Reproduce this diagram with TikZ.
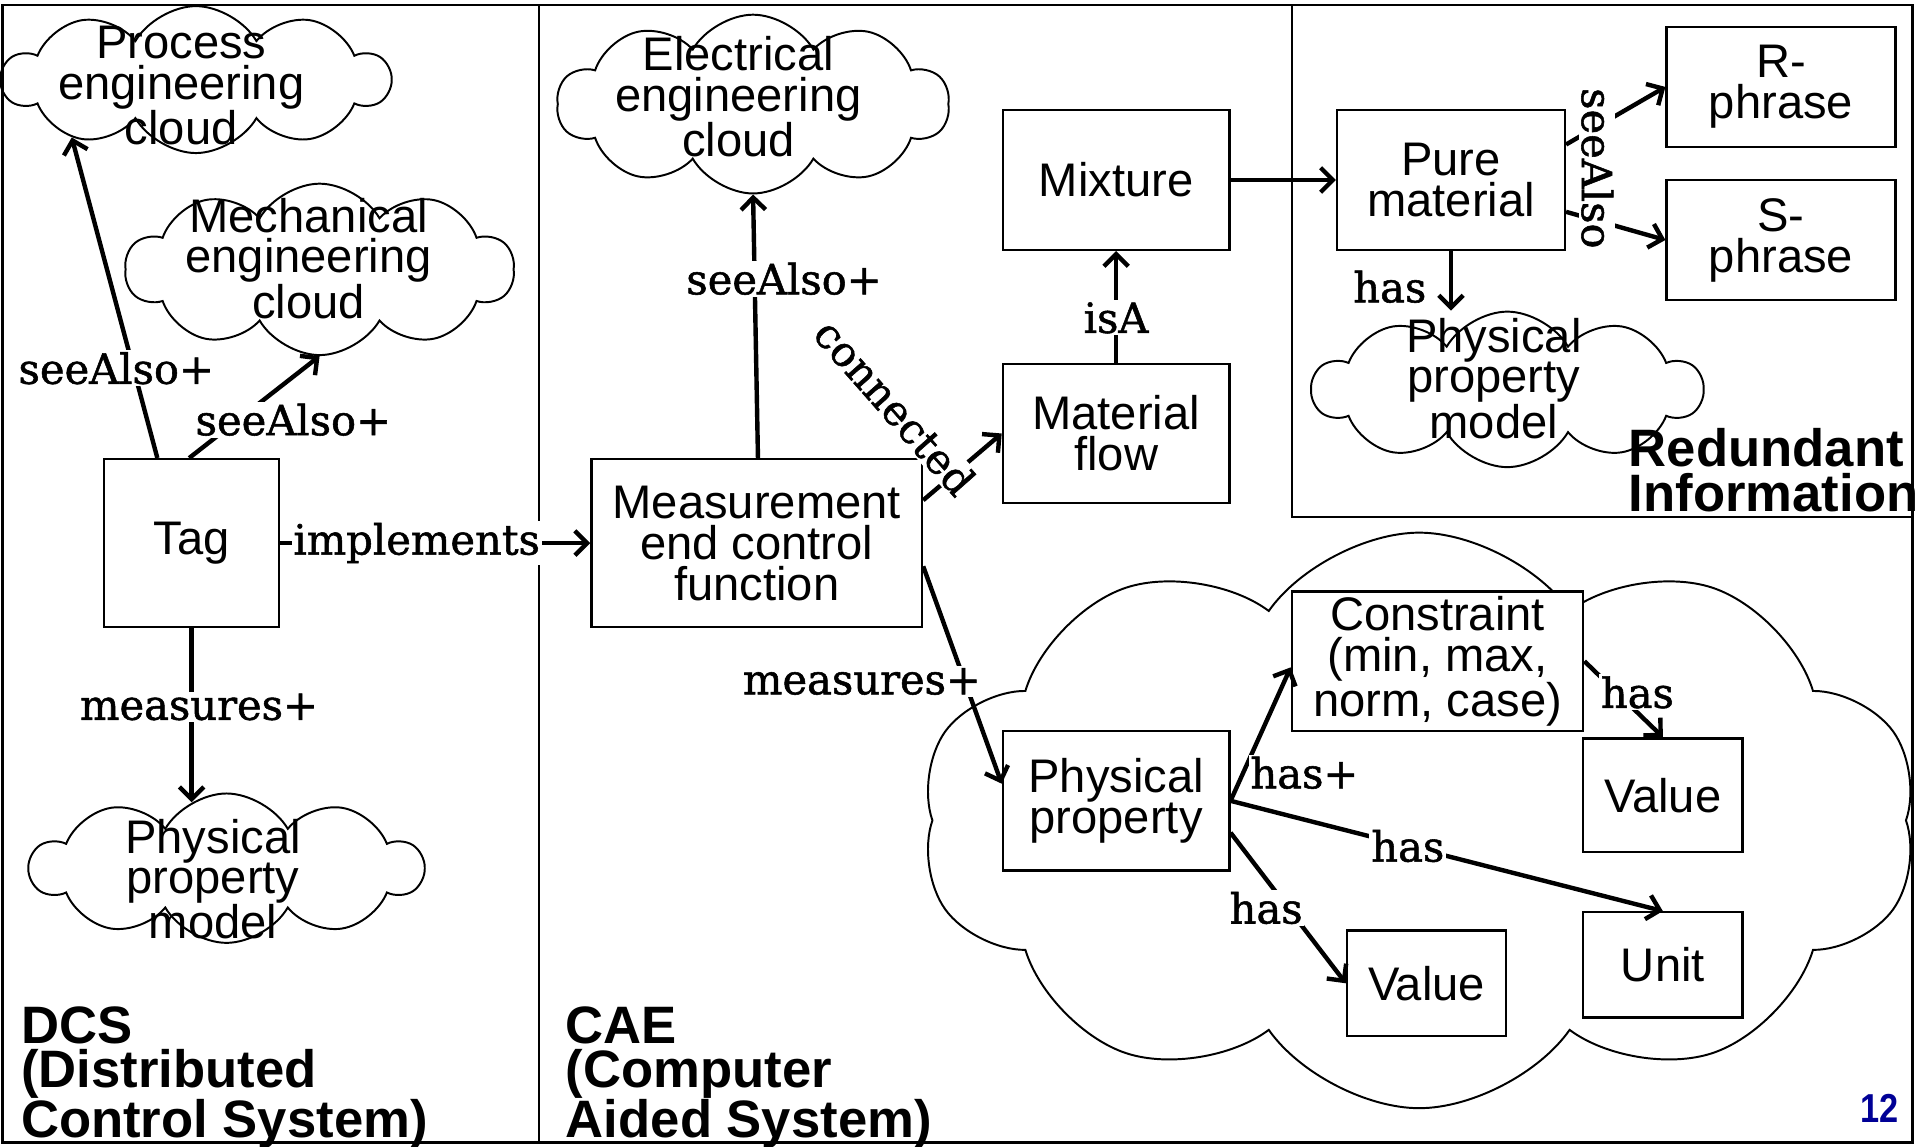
\documentclass[tikz,border=0pt]{standalone}
\usepackage{fontspec}
\setmainfont{Liberation Sans}
\newfontfamily\lblfont[RawFeature={embolden=1.3}]{DejaVu Serif}
\newfontfamily\numfont[FakeStretch=0.85]{Liberation Sans}
\usetikzlibrary{shapes.symbols,arrows.meta}
\definecolor{pgnum}{RGB}{0,0,150}
\begin{document}
\begin{tikzpicture}[x=1pt,y=-1pt,
  box/.style={draw, fill=white, line width=1.9pt, align=center, inner sep=0pt, font=\fontsize{38.5}{33.5}\selectfont},
  ctext/.style={align=center, inner sep=0pt, font=\fontsize{38.5}{33}\selectfont},
  cloudnode/.style={cloud, draw, line width=1.6pt, cloud puffs=10, cloud puff arc=120, cloud ignores aspect, inner sep=0pt},
  conn/.style={line width=3.6pt, -{Straight Barb[length=10pt,width=20pt]}},
  lbl/.style={font=\lblfont\fontsize{34}{34}\selectfont, fill=white, inner sep=1.5pt},
  ttl/.style={align=left, anchor=north west, inner sep=0pt, font=\bfseries\fontsize{43}{36}\selectfont}]
\useasboundingbox (0,0) rectangle (1568,936);
% frame and areas
\draw[line width=2.2pt] (2,4) rectangle (1562,933);
\draw[line width=1.9pt] (440,4) -- (440,933);
\draw[line width=1.9pt] (1055,4) rectangle (1562,422);
% big cloud
\node[cloudnode, cloud puffs=10, cloud puff arc=110, minimum width=814pt, minimum height=470pt] (bigcloud) at (1159,670) {};
% small clouds
\node[cloudnode, minimum width=316pt, minimum height=120pt] (pcloud) at (160,65) {};
\node[ctext] (ptext) at (148,70) {Process\\engineering\\cloud};
\node[cloudnode, minimum width=317pt, minimum height=140pt] (mcloud) at (261,220) {};
\node[ctext] (mtext) at (252,211) {Mechanical\\engineering\\cloud};
\node[cloudnode, minimum width=320pt, minimum height=146pt] (ecloud) at (615,85) {};
\node[ctext] (etext) at (603,79) {Electrical\\engineering\\cloud};
\node[cloudnode, minimum width=320pt, minimum height=122pt] (dcloud) at (185,709) {};
\node[ctext] (dtext) at (174,718) {Physical\\property\\model};
\node[cloudnode, minimum width=318pt, minimum height=127pt] (rcloud) at (1231,318) {};
\node[ctext] (rtext) at (1220,309) {Physical\\property\\model};
% boxes
\node[box, minimum width=143pt, minimum height=137pt] (tag) at (156.5,443.5) {Tag};
\node[box, minimum width=270pt, minimum height=137pt] (meas) at (618,443.5) {Measurement\\end control\\function};
\node[box, minimum width=185pt, minimum height=114pt] (mix) at (911.5,147) {Mixture};
\node[box, minimum width=185pt, minimum height=114pt] (mflow) at (911.5,354) {Material\\flow};
\node[box, minimum width=186pt, minimum height=114pt] (pure) at (1185,147) {Pure\\material};
\node[box, minimum width=187pt, minimum height=98pt] (rph) at (1454.5,71) {R-\\phrase};
\node[box, minimum width=187pt, minimum height=98pt] (sph) at (1454.5,196) {S-\\phrase};
\node[box, minimum width=238pt, minimum height=114pt] (cons) at (1174,540) {Constraint\\(min, max,\\norm, case)};
\node[box, minimum width=130pt, minimum height=93pt] (val1) at (1358,649.5) {Value};
\node[box, minimum width=185pt, minimum height=114pt] (pp) at (911.5,654) {Physical\\property};
\node[box, minimum width=130pt, minimum height=86pt] (val2) at (1165,803) {Value};
\node[box, minimum width=130pt, minimum height=86pt] (unit) at (1358,788) {Unit};
% connectors
\draw[conn] ([xshift=-28pt]tag.north) -- node[lbl, pos=0.28, xshift=-14pt]{seeAlso+} (pcloud.205);
\draw[conn] ([xshift=-2pt]tag.north) -- node[lbl, pos=0.376, xshift=45pt]{seeAlso+} (mcloud.south);
\draw[conn] (tag) -- node[lbl, pos=0.44]{implements} (meas);
\draw[conn, shorten >=-8pt] (tag.south) -- node[lbl, pos=0.48, xshift=6pt]{measures+} (tag.south |- dcloud.north);
\draw[conn] ([xshift=1pt]meas.north) -- node[lbl, pos=0.68, xshift=24pt]{seeAlso+} (ecloud.south);
\draw[conn] ([yshift=35pt]meas.east) -- node[lbl, pos=0.5, xshift=-55pt, yshift=49pt, rotate=-48.6]{connected} (mflow.west);
\draw[conn] ([yshift=-19pt]meas.east) -- node[lbl, pos=0.53, xshift=-84pt]{measures+} ([yshift=14pt]pp.west);
\draw[conn] (mflow) -- node[lbl, pos=0.4]{isA} (mix);
\draw[conn] (mix) -- (pure);
\draw[conn] ([yshift=-26pt]pure.east) -- (sph.west);
\draw[conn] ([yshift=29pt]pure.east) -- node[lbl, pos=0.5, xshift=-15pt, yshift=-43pt, rotate=-90]{seeAlso} (rph.west);
\draw[conn] (pure.south) -- node[lbl, pos=0.6, xshift=-50pt]{has} (pure.south |- rcloud.north);
\draw[conn] (pp.east) -- node[lbl, pos=0.21, xshift=50pt]{has+} ([yshift=-5pt]cons.west);
\draw[conn] (pp.east) -- node[lbl, pos=0.41]{has} (unit.north);
\draw[conn] ([yshift=-26pt]pp.east) -- node[lbl, pos=0.5, xshift=-18pt]{has} (val2.west);
\draw[conn] (cons.east) -- node[lbl, pos=0.41, xshift=17pt]{has} (val1.north);
% titles
\node[ttl] (dcs) at (17,822) {DCS\\(Distributed\\Control System)};
\node[ttl] (cae) at (462,822) {CAE\\(Computer\\Aided System)};
\node[ttl] (red) at (1330,350) {Redundant\\Information};
\node[inner sep=0pt, text=pgnum, font=\numfont\bfseries\fontsize{33}{33}\selectfont] (pnum) at (1535,905) {12};
\end{tikzpicture}
\end{document}
